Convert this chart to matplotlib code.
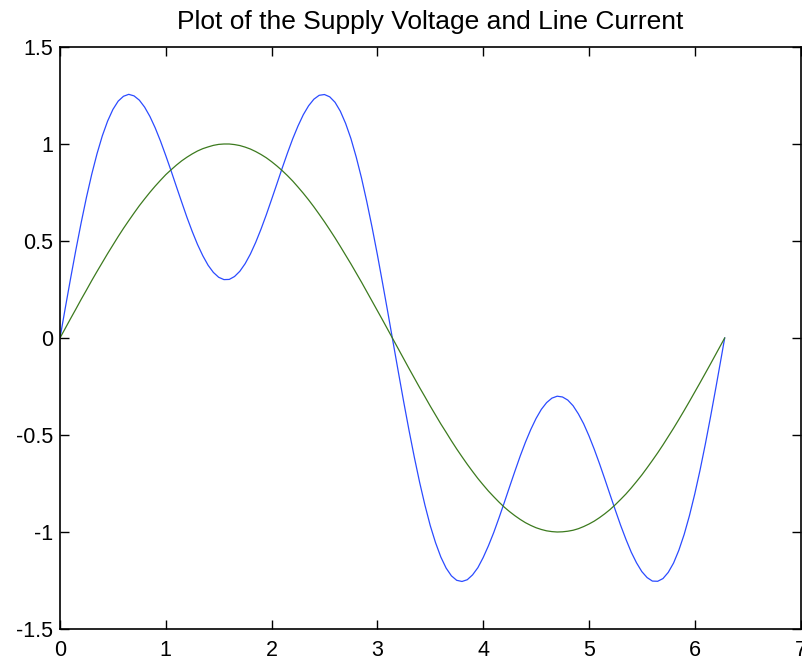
import matplotlib
matplotlib.use("Agg")
import matplotlib.pyplot as plt

# time axis (rad), one period
t = [0.00, 0.05, 0.10, 0.15, 0.20, 0.25, 0.30, 0.35, 0.40, 0.45,
     0.50, 0.55, 0.60, 0.65, 0.70, 0.75, 0.80, 0.85, 0.90, 0.95,
     1.00, 1.05, 1.10, 1.15, 1.20, 1.25, 1.30, 1.35, 1.40, 1.45,
     1.50, 1.55, 1.60, 1.65, 1.70, 1.75, 1.80, 1.85, 1.90, 1.95,
     2.00, 2.05, 2.10, 2.15, 2.20, 2.25, 2.30, 2.35, 2.40, 2.45,
     2.50, 2.55, 2.60, 2.65, 2.70, 2.75, 2.80, 2.85, 2.90, 2.95,
     3.00, 3.05, 3.10, 3.15, 3.20, 3.25, 3.30, 3.35, 3.40, 3.45,
     3.50, 3.55, 3.60, 3.65, 3.70, 3.75, 3.80, 3.85, 3.90, 3.95,
     4.00, 4.05, 4.10, 4.15, 4.20, 4.25, 4.30, 4.35, 4.40, 4.45,
     4.50, 4.55, 4.60, 4.65, 4.70, 4.75, 4.80, 4.85, 4.90, 4.95,
     5.00, 5.05, 5.10, 5.15, 5.20, 5.25, 5.30, 5.35, 5.40, 5.45,
     5.50, 5.55, 5.60, 5.65, 5.70, 5.75, 5.80, 5.85, 5.90, 5.95,
     6.00, 6.05, 6.10, 6.15, 6.20, 6.25, 6.2832]

# line current (distorted, with third harmonic)
current = [0.0, 0.155, 0.307, 0.454, 0.594, 0.725, 0.844, 0.950, 1.042, 1.118,
           1.178, 1.221, 1.246, 1.256, 1.248, 1.226, 1.190, 1.142, 1.083, 1.015,
           0.940, 0.862, 0.781, 0.701, 0.622, 0.549, 0.482, 0.424, 0.375, 0.338,
           0.313, 0.301, 0.302, 0.317, 0.344, 0.383, 0.433, 0.493, 0.561, 0.635,
           0.714, 0.794, 0.875, 0.953, 1.027, 1.093, 1.151, 1.197, 1.231, 1.251,
           1.255, 1.243, 1.215, 1.169, 1.106, 1.028, 0.933, 0.825, 0.703, 0.571,
           0.430, 0.281, 0.129, -0.026, -0.180, -0.332, -0.478, -0.616, -0.745, -0.862,
           -0.967, -1.055, -1.129, -1.186, -1.226, -1.249, -1.255, -1.246, -1.221, -1.184,
           -1.132, -1.071, -1.003, -0.927, -0.848, -0.767, -0.687, -0.609, -0.537, -0.472,
           -0.415, -0.368, -0.333, -0.310, -0.300, -0.304, -0.320, -0.349, -0.391, -0.442,
           -0.504, -0.573, -0.648, -0.727, -0.808, -0.888, -0.966, -1.038, -1.104, -1.159,
           -1.204, -1.235, -1.253, -1.254, -1.240, -1.208, -1.160, -1.094, -1.013, -0.916,
           -0.805, -0.682, -0.548, -0.405, -0.256, -0.103, 0.0]

# supply voltage
voltage = [0.0, 0.050, 0.100, 0.149, 0.199, 0.247, 0.296, 0.343, 0.389, 0.435,
           0.479, 0.523, 0.565, 0.605, 0.644, 0.682, 0.717, 0.751, 0.783, 0.813,
           0.842, 0.867, 0.891, 0.913, 0.932, 0.949, 0.964, 0.976, 0.985, 0.993,
           0.998, 1.000, 1.000, 0.997, 0.992, 0.984, 0.974, 0.961, 0.946, 0.929,
           0.909, 0.887, 0.863, 0.837, 0.809, 0.778, 0.746, 0.712, 0.676, 0.638,
           0.599, 0.558, 0.516, 0.472, 0.427, 0.382, 0.335, 0.288, 0.239, 0.190,
           0.141, 0.092, 0.042, -0.008, -0.058, -0.108, -0.158, -0.207, -0.256, -0.303,
           -0.351, -0.397, -0.443, -0.486, -0.530, -0.572, -0.612, -0.651, -0.688, -0.724,
           -0.757, -0.789, -0.818, -0.846, -0.872, -0.895, -0.916, -0.935, -0.952, -0.966,
           -0.978, -0.987, -0.994, -0.998, -1.000, -0.999, -0.996, -0.991, -0.983, -0.972,
           -0.959, -0.944, -0.926, -0.906, -0.884, -0.859, -0.832, -0.804, -0.773, -0.740,
           -0.706, -0.669, -0.631, -0.592, -0.551, -0.508, -0.465, -0.420, -0.374, -0.327,
           -0.279, -0.231, -0.182, -0.133, -0.083, -0.033, 0.0]

xticks = [0, 1, 2, 3, 4, 5, 6, 7]
yticks = [-1.5, -1, -0.5, 0, 0.5, 1, 1.5]

plt.rcParams['font.family'] = ['Liberation Sans', 'DejaVu Sans']

fig = plt.figure(figsize=(8.02, 6.6), dpi=100)
ax = fig.add_axes([60 / 802, 31 / 660, 740.5 / 802, 582 / 660])

ax.plot(t, current, color='#2b4bff', lw=0.9)
ax.plot(t, voltage, color='#3c7a1e', lw=0.9)

ax.set_xlim(0, 7)
ax.set_ylim(-1.5, 1.5)
ax.set_xticks(xticks)
ax.set_yticks(yticks)
ax.set_xticklabels([f"{v:g}" for v in xticks])
ax.set_yticklabels([f"{v:g}" for v in yticks])
ax.tick_params(direction='in', length=6.5, width=1, top=True, right=True,
               labelsize=15.5, colors='black')
ax.tick_params(axis='x', pad=8)
ax.tick_params(axis='y', pad=5)
for s in ax.spines.values():
    s.set_linewidth(1.2)

ax.set_title("Plot of the Supply Voltage and Line Current", fontsize=19, pad=13)

fig.savefig("out.png", dpi=100)
